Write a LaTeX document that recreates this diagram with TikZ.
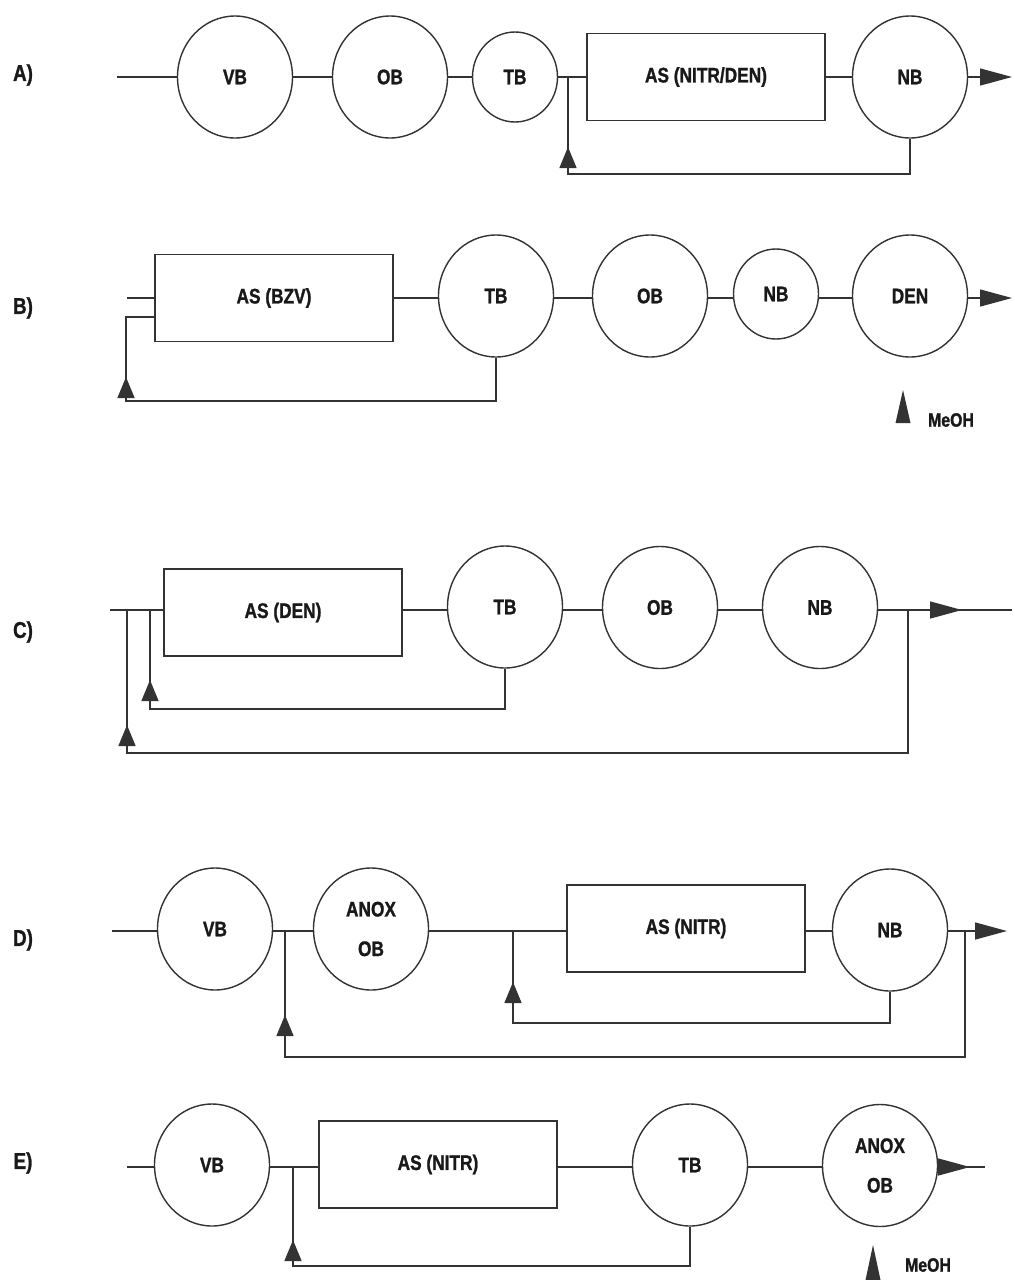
\documentclass[tikz,border=0pt]{standalone}
\usepackage{fontspec}
\setmainfont{Liberation Sans}[
  FakeStretch=0.82,
  BoldFont={Liberation Sans Bold},
  BoldFeatures={FakeStretch=0.82, FakeBold=1.2}]
\usetikzlibrary{arrows.meta,shapes.geometric}

\begin{document}
\begin{tikzpicture}[
  color=black!80, line width=0.8pt,
  font=\bfseries\fontsize{12}{14}\selectfont,
  every node/.style={text=black!90},
  tank/.style={draw, ellipse, minimum width=2.3cm, minimum height=2.44cm, inner sep=0pt},
  smalltank/.style={draw, ellipse, minimum width=1.7cm, minimum height=1.8cm, inner sep=0pt},
  basin/.style={draw, minimum width=4.76cm, minimum height=1.74cm},
  outflow/.style={-{Triangle[length=0.64cm,width=0.34cm]}},
  recycle/.style={-{Triangle[length=0.42cm,width=0.34cm]}},
  rowlabel/.style={font=\bfseries\fontsize{13}{15}\selectfont},
  dosing/.style={font=\bfseries\fontsize{11}{13}\selectfont}
]
  \useasboundingbox (0,0) rectangle (20.28,-25.6);

  % A) VB - OB - TB - AS (NITR/DEN) - NB
  \node[rowlabel] (A) at (0.46,-1.50) {A)};
  \coordinate (A-in) at (2.34,-1.54);
  \node[tank] (A-vb) at (4.70,-1.54) {VB};
  \node[tank] (A-ob) at (7.80,-1.54) {OB};
  \node[smalltank] (A-tb) at (10.30,-1.54) {TB};
  \coordinate (A-j) at (11.36,-1.54);
  \node[basin] (A-as) at (14.12,-1.54) {AS (NITR/DEN)};
  \node[tank] (A-nb) at (18.20,-1.54) {NB};
  \coordinate (A-out) at (20.24,-1.54);
  \coordinate (A-ret) at (11.36,-3.48);
  \draw (A-in) -- (A-vb) -- (A-ob) -- (A-tb) -- (A-as) -- (A-nb);
  \draw[outflow] (A-nb) -- (A-out);
  \draw (A-nb.south) |- (A-ret) -- (A-j);
  \draw[recycle] (A-ret) -- ++(0,0.54);

  % B) AS (BZV) - TB - OB - NB - DEN, methanol dosing
  \node[rowlabel] (B) at (0.46,-6.16) {B)};
  \coordinate (B-in) at (2.54,-5.96);
  \node[basin] (B-as) at (5.48,-5.96) {AS (BZV)};
  \node[tank] (B-tb) at (9.92,-5.92) {TB};
  \node[tank] (B-ob) at (13.00,-5.92) {OB};
  \node[smalltank] (B-nb) at (15.52,-5.88) {NB};
  \node[tank] (B-den) at (18.20,-5.92) {DEN};
  \coordinate (B-out) at (20.24,-5.96);
  \coordinate (B-ret) at (2.52,-8.02);
  \coordinate (B-back) at (3.10,-6.34);
  \draw (B-in) -- (B-as.west |- B-in);
  \draw (B-as.east |- B-in) -- (B-tb.west |- B-in);
  \draw (B-tb.east |- B-in) -- (B-ob.west |- B-in);
  \draw (B-ob.east |- B-in) -- (B-nb.west |- B-in);
  \draw (B-nb.east |- B-in) -- (B-den.west |- B-in);
  \draw[outflow] (B-den.east |- B-in) -- (B-out);
  \draw (B-tb.south) |- (B-ret) |- (B-back);
  \draw[recycle] (B-ret) -- ++(0,0.48);
  \coordinate (B-dose) at (18.06,-7.80);
  \fill (B-dose) -- ++(-0.15,-0.66) -- ++(0.3,0) -- cycle;
  \node[dosing] (B-meoh) at (19.02,-8.40) {MeOH};

  % C) AS (DEN) - TB - OB - NB, two returns
  \node[rowlabel] (C) at (0.46,-12.64) {C)};
  \coordinate (C-in) at (2.20,-12.2);
  \coordinate (C-j1) at (2.54,-12.2);
  \coordinate (C-j2) at (3.00,-12.2);
  \node[basin] (C-as) at (5.66,-12.25) {AS (DEN)};
  \node[tank] (C-tb) at (10.10,-12.14) {TB};
  \node[tank] (C-ob) at (13.20,-12.15) {OB};
  \node[tank] (C-nb) at (16.40,-12.15) {NB};
  \coordinate (C-j3) at (18.16,-12.2);
  \coordinate (C-tip) at (19.24,-12.2);
  \coordinate (C-end) at (20.24,-12.2);
  \coordinate (C-ret1) at (2.54,-15.06);
  \coordinate (C-ret2) at (3.00,-14.18);
  \draw (C-in) -- (C-as.west |- C-in);
  \draw (C-as.east |- C-in) -- (C-tb.west |- C-in);
  \draw (C-tb.east |- C-in) -- (C-ob.west |- C-in);
  \draw (C-ob.east |- C-in) -- (C-nb.west |- C-in);
  \draw (C-nb.east |- C-in) -- (C-end);
  \draw[outflow] (C-j3) -- (C-tip);
  \draw (C-tb.south) |- (C-ret2) -- (C-j2);
  \draw (C-j3) |- (C-ret1) -- (C-j1);
  \draw[recycle] (C-ret2) -- ++(0,0.58);
  \draw[recycle] (C-ret1) -- ++(0,0.56);

  % D) VB - ANOX OB - AS (NITR) - NB
  \node[rowlabel] (D) at (0.46,-18.80) {D)};
  \coordinate (D-in) at (2.24,-18.62);
  \node[tank] (D-vb) at (4.30,-18.58) {VB};
  \coordinate (D-j1) at (5.70,-18.62);
  \node[tank, align=center] (D-anox) at (7.42,-18.58) {ANOX\\[0.3cm]OB};
  \coordinate (D-j2) at (10.26,-18.62);
  \node[basin] (D-as) at (13.72,-18.57) {AS (NITR)};
  \node[tank] (D-nb) at (17.80,-18.60) {NB};
  \coordinate (D-j3) at (19.30,-18.62);
  \coordinate (D-out) at (20.14,-18.62);
  \coordinate (D-ret1) at (5.70,-21.14);
  \coordinate (D-ret2) at (10.26,-20.46);
  \draw (D-in) -- (D-vb.west |- D-in);
  \draw (D-vb.east |- D-in) -- (D-anox.west |- D-in);
  \draw (D-anox.east |- D-in) -- (D-as.west |- D-in);
  \draw (D-as.east |- D-in) -- (D-nb.west |- D-in);
  \draw[outflow] (D-nb.east |- D-in) -- (D-out);
  \draw (D-nb.south) |- (D-ret2) -- (D-j2);
  \draw (D-j3) |- (D-ret1) -- (D-j1);
  \draw[recycle] (D-ret2) -- ++(0,0.82);
  \draw[recycle] (D-ret1) -- ++(0,0.84);

  % E) VB - AS (NITR) - TB - ANOX OB, methanol dosing
  \node[rowlabel] (E) at (0.46,-23.26) {E)};
  \coordinate (E-in) at (2.54,-23.34);
  \node[tank] (E-vb) at (4.24,-23.30) {VB};
  \coordinate (E-j) at (5.86,-23.34);
  \node[basin] (E-as) at (8.76,-23.29) {AS (NITR)};
  \node[tank] (E-tb) at (13.80,-23.30) {TB};
  \node[tank, align=center] (E-anox) at (17.60,-23.31) {ANOX\\[0.3cm]OB};
  \coordinate (E-tip) at (19.40,-23.34);
  \coordinate (E-end) at (19.70,-23.34);
  \coordinate (E-ret) at (5.86,-25.32);
  \draw (E-in) -- (E-vb.west |- E-in);
  \draw (E-vb.east |- E-in) -- (E-as.west |- E-in);
  \draw (E-as.east |- E-in) -- (E-tb.west |- E-in);
  \draw (E-tb.east |- E-in) -- (E-anox.west |- E-in);
  \draw (E-anox.east |- E-in) -- (E-end);
  \draw[outflow] (E-anox.east |- E-in) -- (E-tip);
  \draw (E-tb.south) |- (E-ret) -- (E-j);
  \draw[recycle] (E-ret) -- ++(0,0.52);
  \coordinate (E-dose) at (17.46,-24.90);
  \fill (E-dose) -- ++(-0.15,-0.70) -- ++(0.3,0) -- cycle;
  \node[dosing] (E-meoh) at (18.56,-25.30) {MeOH};
\end{tikzpicture}
\end{document}
